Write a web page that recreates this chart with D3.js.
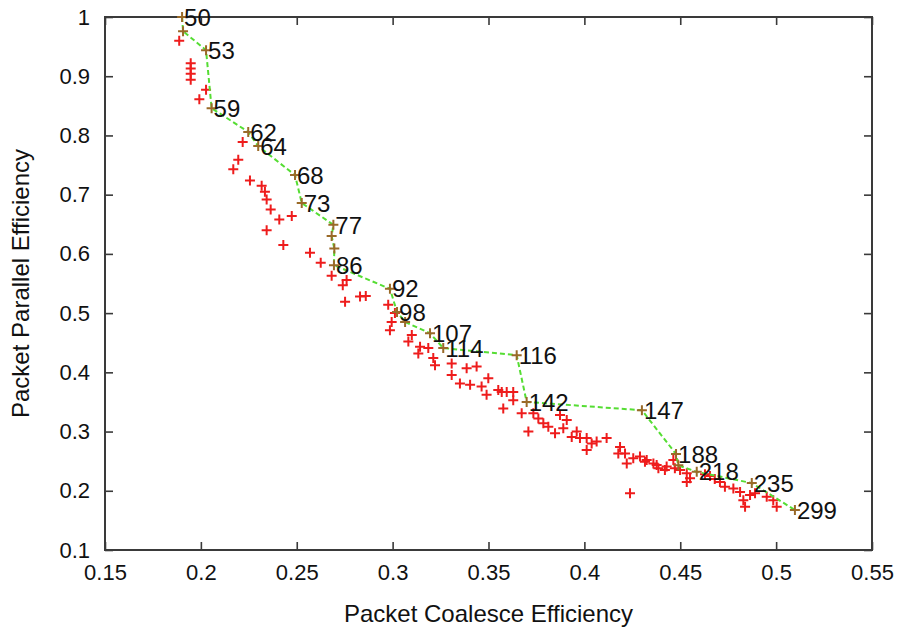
<!DOCTYPE html>
<html>
<head>
<meta charset="utf-8">
<script src="https://cdn.jsdelivr.net/npm/d3@7"></script>
<style>
  html, body { margin: 0; padding: 0; background: #fff; }
  svg { display: block; }
  text { font-family: "Liberation Sans", Arial, Helvetica, sans-serif; fill: #111; }
</style>
</head>
<body>
<svg id="chart" width="903" height="631"></svg>
<script>
// ---- Data ----
const xTicks = [0.15, 0.2, 0.25, 0.3, 0.35, 0.4, 0.45, 0.5, 0.55];
const yTicks = [0.1, 0.2, 0.3, 0.4, 0.5, 0.6, 0.7, 0.8, 0.9, 1];

// all design points (red +)
const scatterX = [0.1887,0.1947,0.1947,0.1947,0.1947,0.2027,0.1992,0.2218,0.2195,0.2169,
  0.2256,0.2317,0.2334,0.2343,0.2364,0.2409,0.2474,0.2343,0.2430,0.2569,0.2625,0.2682,0.2740,0.2760,0.2752,0.2830,0.2860,0.2977,0.3012,
  0.2995,0.2986,0.3100,0.3082,0.3143,0.3186,0.3134,0.3212,0.3221,0.3308,0.3386,0.3438,0.3308,0.3351,0.3404,0.3464,0.3499,0.3490,0.3551,
  0.3569,0.3595,0.3629,0.3629,0.3577,0.3673,0.3708,0.3734,0.3760,0.3786,0.3812,0.3847,0.3873,0.3908,0.3890,0.3934,0.3960,0.3977,0.4012,
  0.4038,0.4064,0.4012,0.4116,0.4186,0.4177,0.4212,0.4221,0.4255,0.4290,0.4316,0.4360,0.4386,0.4420,0.4464,0.4499,0.4534,0.4534,0.4238,
  0.4325,0.4377,0.4429,0.4472,0.4551,0.4707,0.4733,0.4777,0.4812,0.4829,0.4838,0.4864,0.4890,0.4951,0.4985,0.5003,0.4655,0.4680,0.4629];
const scatterY = [0.960,0.922,0.913,0.904,0.894,0.877,0.861,0.789,0.759,0.743,
  0.724,0.715,0.705,0.692,0.675,0.658,0.664,0.640,0.615,0.602,0.585,0.563,0.547,0.556,0.519,0.528,0.529,0.514,0.500,
  0.485,0.471,0.463,0.452,0.443,0.441,0.432,0.424,0.412,0.415,0.407,0.410,0.3955,0.381,0.379,0.376,0.390,0.362,0.370,
  0.367,0.367,0.367,0.353,0.339,0.331,0.300,0.331,0.322,0.314,0.308,0.297,0.328,0.3195,0.3055,0.291,0.300,0.289,0.289,
  0.280,0.283,0.269,0.289,0.274,0.263,0.263,0.246,0.255,0.258,0.249,0.246,0.238,0.235,0.252,0.235,0.2295,0.215,0.196,
  0.252,0.2435,0.241,0.238,0.221,0.215,0.207,0.204,0.198,0.184,0.173,0.193,0.196,0.190,0.184,0.173,0.225,0.220,0.228];

// Pareto front (green dashed line), labels ("" = unlabeled point)
const frontX = [0.1902,0.1907,0.2027,0.2056,0.2247,0.2299,0.2491,0.2526,0.2691,0.2682,0.2696,0.2694,0.2986,0.3023,0.3065,0.3195,0.3264,0.3647,0.3699,0.4300,0.4478,0.4490,0.4586,0.4873,0.5098];
const frontY = [1.000,0.976,0.944,0.846,0.806,0.782,0.733,0.686,0.649,0.630,0.609,0.581,0.541,0.502,0.485,0.466,0.441,0.429,0.350,0.336,0.262,0.243,0.232,0.213,0.1675];
const frontLabel = ["50","","53","59","62","64","68","73","77","","","86","92","98","","107","114","116","142","147","188","","218","235","299"];

// ---- Layout ----
const svg = d3.select("#chart");
const L = 105, R = 872, T = 17, B = 550;
const x = d3.scaleLinear().domain([0.15, 0.55]).range([L, R]);
const y = d3.scaleLinear().domain([0.1, 1]).range([B, T]);

const tickLen = 8;
const axisColor = "#3a3a3a";
const fmt = d => (d === 1 ? "1" : d3.format(".2~f")(d));

const gAxes = svg.append("g");
const gb = gAxes.append("g").attr("transform", `translate(0,${B})`)
  .call(d3.axisBottom(x).tickValues(xTicks).tickSize(-tickLen).tickPadding(14).tickFormat(fmt));
gAxes.append("g").attr("transform", `translate(0,${T})`)
  .call(d3.axisTop(x).tickValues(xTicks).tickSize(-tickLen).tickFormat(""));
gAxes.append("g").attr("transform", `translate(${L},0)`)
  .call(d3.axisLeft(y).tickValues(yTicks).tickSize(-tickLen).tickPadding(15).tickFormat(fmt));
gAxes.append("g").attr("transform", `translate(${R},0)`)
  .call(d3.axisRight(y).tickValues(yTicks).tickSize(-tickLen).tickFormat(""));

gAxes.selectAll(".domain").remove();
gAxes.selectAll(".tick line").attr("stroke", axisColor).attr("stroke-width", 1.6);
gAxes.selectAll(".tick text").style("font-size", "22px").attr("fill", "#111");
gb.selectAll(".tick text").attr("dy", "0.71em");

// frame
svg.append("rect").attr("x", x(0.15)).attr("y", y(1)).attr("width", x(0.55) - x(0.15)).attr("height", y(0.1) - y(1))
  .attr("fill", "none").attr("stroke", axisColor).attr("stroke-width", 2);

// axis titles
svg.append("text").attr("x", (L + R) / 2).attr("y", 622).attr("text-anchor", "middle")
  .style("font-size", "24px").text("Packet Coalesce Efficiency");
svg.append("text").attr("transform", `translate(29,${(T + B) / 2}) rotate(-90)`).attr("text-anchor", "middle")
  .style("font-size", "24px").text("Packet Parallel Efficiency");

const plus = s => `M${-s},0H${s}M0,${-s}V${s}`;

// scatter points
svg.append("g").selectAll("path").data(scatterX.map((v, i) => [v, scatterY[i]])).join("path")
  .attr("transform", d => `translate(${x(d[0])},${y(d[1])})`)
  .attr("d", plus(5)).attr("stroke", "#ee1c1c").attr("stroke-width", 2).attr("fill", "none");

// front line
const front = frontX.map((v, i) => ({ x: v, y: frontY[i], label: frontLabel[i] }));
svg.append("path").datum(front)
  .attr("d", d3.line().x(d => x(d.x)).y(d => y(d.y)))
  .attr("fill", "none").attr("stroke", "#55dd33").attr("stroke-width", 2).attr("stroke-dasharray", "5,3");

// front markers
svg.append("g").selectAll("path").data(front).join("path")
  .attr("transform", d => `translate(${x(d.x)},${y(d.y)})`)
  .attr("d", plus(5)).attr("stroke", "#9a6a28").attr("stroke-width", 2).attr("fill", "none");

// labels
svg.append("g").selectAll("text").data(front.filter(d => d.label)).join("text")
  .attr("x", d => x(d.x) + 2).attr("y", d => y(d.y)).attr("dy", "0.36em")
  .style("font-size", "24px").text(d => d.label);
</script>
</body>
</html>
